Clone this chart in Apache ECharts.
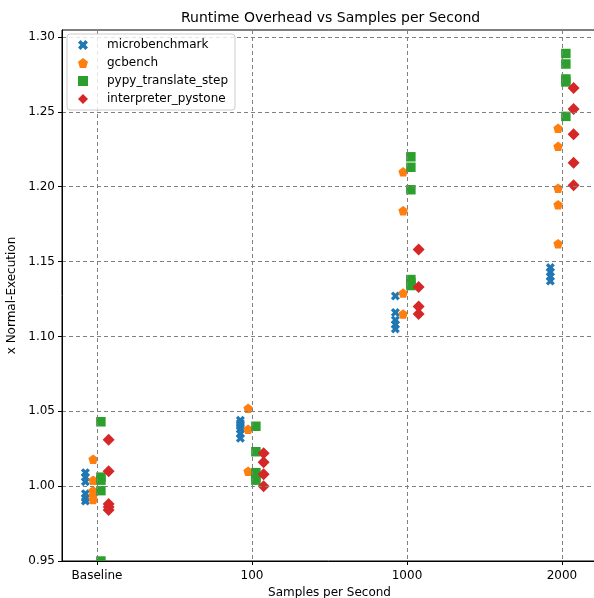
<!DOCTYPE html>
<html>
<head>
<meta charset="utf-8">
<script src="https://cdn.jsdelivr.net/npm/echarts@6/dist/echarts.min.js"></script>
<style>html,body{margin:0;padding:0;background:#fff}#c{width:594px;height:598px}</style>
</head>
<body>
<div id="c"></div>
<script>
// ---- data ----
const categories = ['Baseline', '100', '1000', '2000'];
const yTicks = [0.95, 1.00, 1.05, 1.10, 1.15, 1.20, 1.25, 1.30];
const seriesNames = ['microbenchmark', 'gcbench', 'pypy_translate_step', 'interpreter_pystone'];

const microbenchmark = [
  [1.009, 1.006, 1.003, 0.995, 0.992, 0.990],
  [1.044, 1.042, 1.040, 1.038, 1.035, 1.032],
  [1.127, 1.116, 1.111, 1.108, 1.105],
  [1.146, 1.143, 1.140, 1.137]
];
const gcbench = [
  [1.018, 1.004, 0.997, 0.994, 0.991],
  [1.052, 1.038, 1.010],
  [1.210, 1.184, 1.129, 1.115],
  [1.239, 1.227, 1.199, 1.188, 1.162]
];
const pypy_translate_step = [
  [1.043, 1.006, 1.004, 0.997, 0.950],
  [1.040, 1.023, 1.009, 1.006, 1.004],
  [1.220, 1.213, 1.198, 1.138, 1.136, 1.134],
  [1.289, 1.282, 1.272, 1.270, 1.247]
];
const interpreter_pystone = [
  [1.031, 1.010, 0.988, 0.986, 0.984],
  [1.022, 1.016, 1.008, 1.000],
  [1.158, 1.133, 1.120, 1.115],
  [1.266, 1.252, 1.235, 1.216, 1.201]
];

// ---- style ----
const allData = [microbenchmark, gcbench, pypy_translate_step, interpreter_pystone];
const offsets = [-0.075, -0.025, 0.025, 0.075];
const colors = ['#1f77b4', '#ff7f0e', '#2ca02c', '#d62728'];
const symbols = [
  'path://M0,2.6 L2.6,0 L5,2.4 L7.4,0 L10,2.6 L7.6,5 L10,7.4 L7.4,10 L5,7.6 L2.6,10 L0,7.4 L2.4,5 Z',
  'path://M5,0 L10,3.8 L8.1,10 L1.9,10 L0,3.8 Z',
  'rect',
  'diamond'
];
const sizes = [9, 9.5, 9.5, 12];
const FONT = 'DejaVu Sans';
const W = 594, H = 598, GRID_BOTTOM = 37;

const series = seriesNames.map((name, s) => {
  const pts = [];
  allData[s].forEach((vals, ci) => vals.forEach(v => pts.push([ci + offsets[s], v])));
  return {
    name, type: 'scatter', data: pts,
    symbol: symbols[s], symbolSize: sizes[s],
    itemStyle: { color: colors[s], opacity: 1 },
    emphasis: { disabled: true }, z: 3 + s
  };
});

const chart = echarts.init(document.getElementById('c'), null, { renderer: 'canvas' });
chart.setOption({
  animation: false,
  backgroundColor: '#fff',
  title: {
    text: 'Runtime Overhead vs Samples per Second',
    left: 176, top: 6,
    textStyle: { fontFamily: FONT, fontSize: 14, fontWeight: 'normal', color: '#000' }
  },
  legend: {
    orient: 'vertical', left: 67, top: 34,
    padding: [4, 7, 4, 11],
    itemWidth: 10, itemHeight: 10, itemGap: 4,
    backgroundColor: 'rgba(255,255,255,0.8)',
    borderColor: '#cccccc', borderWidth: 1, borderRadius: 3,
    textStyle: { fontFamily: FONT, fontSize: 12, color: '#000', padding: [0, 0, 0, 14], lineHeight: 14 },
    data: seriesNames.map((n, i) => ({ name: n, icon: symbols[i] })),
    z: 20
  },
  // white mask below the plot area so markers are clipped at the axis (like matplotlib)
  graphic: [{
    type: 'rect', z: 8, silent: true,
    shape: { x: 0, y: H - GRID_BOTTOM + 0.6, width: W, height: GRID_BOTTOM },
    style: { fill: '#fff' }
  }],
  grid: {
    left: 62, top: 30, bottom: GRID_BOTTOM, width: 535,
    outerBoundsMode: 'none', containLabel: false,
    show: true, borderColor: '#000', borderWidth: 1, backgroundColor: 'transparent'
  },
  xAxis: {
    type: 'value', min: -0.226, max: 3.226, z: 10,
    name: 'Samples per Second', nameLocation: 'middle', nameGap: 24,
    nameTextStyle: { fontFamily: FONT, fontSize: 12, color: '#000' },
    axisLine: { show: true, onZero: false, lineStyle: { color: '#000', width: 1 } },
    axisTick: { show: true, inside: false, length: 4, customValues: [0, 1, 2, 3], lineStyle: { color: '#000' } },
    axisLabel: {
      customValues: [0, 1, 2, 3], margin: 9,
      fontFamily: FONT, fontSize: 12, color: '#000',
      formatter: v => categories[Math.round(v)]
    },
    splitLine: { show: true, lineStyle: { color: '#808080', type: [4, 3], width: 1 } }
  },
  yAxis: {
    type: 'value', min: 0.95, max: 1.3047, z: 10,
    name: 'x Normal-Execution', nameLocation: 'middle', nameGap: 42,
    nameTextStyle: { fontFamily: FONT, fontSize: 12, color: '#000' },
    axisLine: { show: true, onZero: false, lineStyle: { color: '#000', width: 1 } },
    axisTick: { show: true, inside: false, length: 4, customValues: yTicks, lineStyle: { color: '#000' } },
    axisLabel: {
      customValues: yTicks, margin: 7,
      fontFamily: FONT, fontSize: 12, color: '#000',
      formatter: v => v.toFixed(2)
    },
    splitLine: { show: true, lineStyle: { color: '#808080', type: [4, 3], width: 1 } }
  },
  series
});
</script>
</body>
</html>
